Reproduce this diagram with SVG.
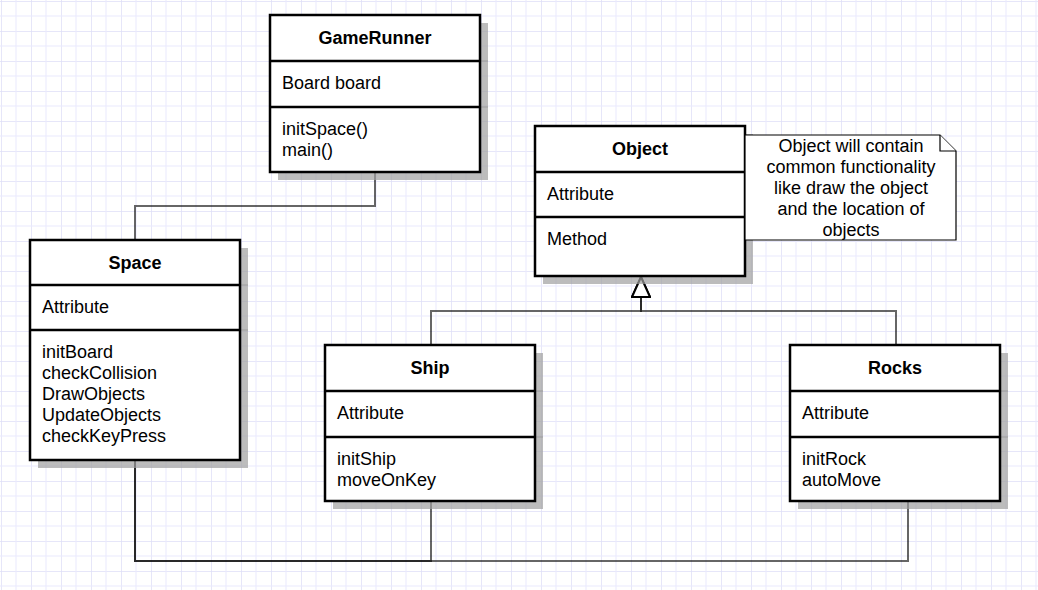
<svg xmlns="http://www.w3.org/2000/svg" width="1038" height="590" viewBox="0 0 1038 590">
<defs>
<pattern id="grid" x="1" y="1" width="30" height="30" patternUnits="userSpaceOnUse">
<path d="M0 0H30M0 0V30" stroke="#dedef8" stroke-width="1.5" fill="none"/>
<path d="M0 15H30M15 0V30" stroke="#e9e9fd" stroke-width="1" fill="none"/>
</pattern>
<marker id="gen" viewBox="0 0 24 20" refX="22" refY="10" markerWidth="24" markerHeight="20" markerUnits="userSpaceOnUse" orient="auto">
<path d="M2 1L22 10L2 19Z" fill="#fff" stroke="#000" stroke-width="2"/>
</marker>
</defs>
<style>
.box{fill:#fff;stroke:#000;stroke-width:2.5}
.shadow{fill:#a0a0a0;opacity:0.7}
.sline{stroke:#a0a0a0;stroke-width:1.5;opacity:0.7}
.div{stroke:#000;stroke-width:2.5}
.t{font-family:"Liberation Sans",Arial,sans-serif;font-size:18px;fill:#000}
.h{font-weight:bold;text-anchor:middle}
.edge{fill:none;stroke:#000;stroke-opacity:0.6;stroke-width:2}
.note{fill:#fff;stroke:#000;stroke-width:1.2}
.nt{text-anchor:middle}
</style>
<rect width="1038" height="590" fill="#fff"/>
<rect width="1038" height="590" fill="url(#grid)"/>

<g id="connectors">
<polyline class="edge" points="375,172 375,206 135,206 135,240"/>
<polyline class="edge" points="135,460 135,561 431,561 431,501"/>
<polyline class="edge" points="135,460 135,561 908,561 908,501"/>
<polyline class="edge" points="431,345 431,311 641,311 641,277" marker-end="url(#gen)"/>
<polyline class="edge" points="896,345 896,311 641,311 641,277" marker-end="url(#gen)"/>
</g>

<g id="GameRunner">
<rect class="shadow" x="278" y="23" width="210" height="157"/>
<line class="sline" x1="480" y1="61" x2="488" y2="61"/>
<line class="sline" x1="480" y1="107" x2="488" y2="107"/>
<rect class="box" x="270" y="15" width="210" height="157"/>
<line class="div" x1="270" y1="61" x2="480" y2="61"/>
<line class="div" x1="270" y1="107" x2="480" y2="107"/>
<text class="t h" x="375" y="44">GameRunner</text>
<text class="t" x="282" y="89">Board board</text>
<text class="t" x="282" y="135">initSpace()</text>
<text class="t" x="282" y="156">main()</text>
</g>

<g id="Space">
<rect class="shadow" x="38" y="248" width="210" height="220"/>
<line class="sline" x1="240" y1="285" x2="248" y2="285"/>
<line class="sline" x1="240" y1="330" x2="248" y2="330"/>
<rect class="box" x="30" y="240" width="210" height="220"/>
<line class="div" x1="30" y1="285" x2="240" y2="285"/>
<line class="div" x1="30" y1="330" x2="240" y2="330"/>
<text class="t h" x="135" y="269">Space</text>
<text class="t" x="42" y="313">Attribute</text>
<text class="t" x="42" y="358">initBoard</text>
<text class="t" x="42" y="379">checkCollision</text>
<text class="t" x="42" y="400">DrawObjects</text>
<text class="t" x="42" y="421">UpdateObjects</text>
<text class="t" x="42" y="442">checkKeyPress</text>
</g>

<g id="Object">
<rect class="shadow" x="543" y="134" width="210" height="150"/>
<line class="sline" x1="745" y1="172" x2="753" y2="172"/>
<line class="sline" x1="745" y1="217" x2="753" y2="217"/>
<rect class="box" x="535" y="126" width="210" height="150"/>
<line class="div" x1="535" y1="172" x2="745" y2="172"/>
<line class="div" x1="535" y1="217" x2="745" y2="217"/>
<text class="t h" x="640" y="155">Object</text>
<text class="t" x="547" y="200">Attribute</text>
<text class="t" x="547" y="245">Method</text>
</g>

<g id="Note">
<path class="note" d="M745 135H940L956 151V240H745Z"/>
<path class="note" d="M940 135V151H956" fill="none"/>
<text class="t nt" x="851" y="152">Object will contain</text>
<text class="t nt" x="851" y="173">common functionality</text>
<text class="t nt" x="851" y="194">like draw the object</text>
<text class="t nt" x="851" y="215">and the location of</text>
<text class="t nt" x="851" y="236">objects</text>
</g>

<g id="Ship">
<rect class="shadow" x="333" y="353" width="210" height="156"/>
<line class="sline" x1="535" y1="391" x2="543" y2="391"/>
<line class="sline" x1="535" y1="437" x2="543" y2="437"/>
<rect class="box" x="325" y="345" width="210" height="156"/>
<line class="div" x1="325" y1="391" x2="535" y2="391"/>
<line class="div" x1="325" y1="437" x2="535" y2="437"/>
<text class="t h" x="430" y="374">Ship</text>
<text class="t" x="337" y="419">Attribute</text>
<text class="t" x="337" y="465">initShip</text>
<text class="t" x="337" y="486">moveOnKey</text>
</g>

<g id="Rocks">
<rect class="shadow" x="798" y="353" width="210" height="156"/>
<line class="sline" x1="1000" y1="391" x2="1008" y2="391"/>
<line class="sline" x1="1000" y1="437" x2="1008" y2="437"/>
<rect class="box" x="790" y="345" width="210" height="156"/>
<line class="div" x1="790" y1="391" x2="1000" y2="391"/>
<line class="div" x1="790" y1="437" x2="1000" y2="437"/>
<text class="t h" x="895" y="374">Rocks</text>
<text class="t" x="802" y="419">Attribute</text>
<text class="t" x="802" y="465">initRock</text>
<text class="t" x="802" y="486">autoMove</text>
</g>
</svg>
